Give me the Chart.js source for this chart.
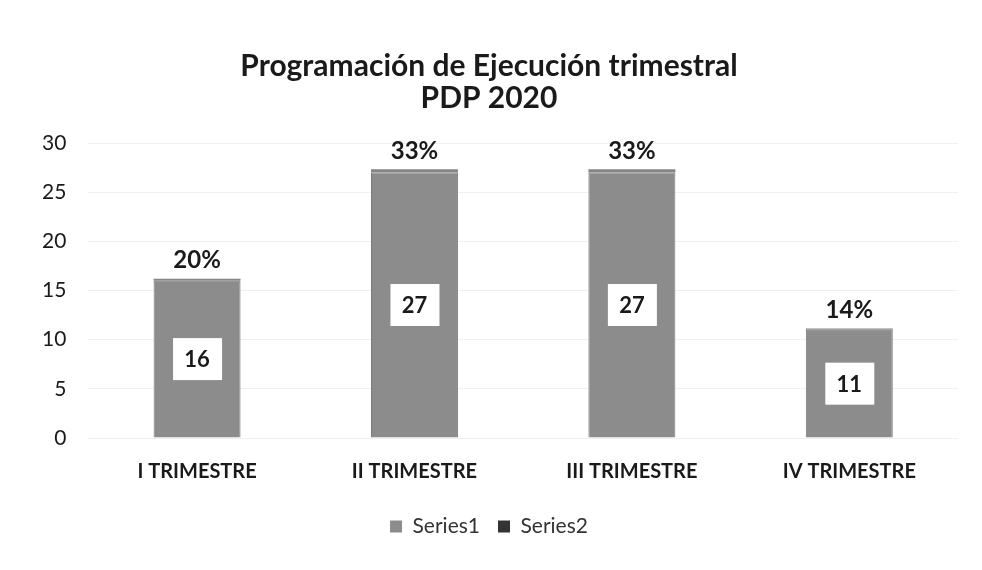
<!DOCTYPE html>
<html lang="es">
<head>
    <meta charset="UTF-8" />
    <title>Programación de Ejecución trimestral PDP 2020</title>
    <style>
        html, body { margin: 0; padding: 0; background: #ffffff; }
        #wrap { width: 982px; height: 570px; position: relative; }
    </style>
</head>
<body>
    <div id="wrap"><canvas id="myChart" width="982" height="570"></canvas></div>

    <script src="https://cdn.jsdelivr.net/npm/chart.js@4/dist/chart.umd.min.js"></script>
    <script>
        // Data
        const categories = ["I TRIMESTRE", "II TRIMESTRE", "III TRIMESTRE", "IV TRIMESTRE"];
        const series1 = [16, 27, 27, 11];
        const series2 = [0.20, 0.33, 0.33, 0.14];
        const yTicks = [0, 5, 10, 15, 20, 25, 30];

        const FONT = "Lato, 'Open Sans', sans-serif";
        const legendColors = ["#8c8c8c", "#333333"];

        // Draws the value boxes in Series1 and the % labels over Series2
        const barLabels = {
            id: "barLabels",
            afterDatasetsDraw(chart) {
                const ctx = chart.ctx;
                ctx.save();
                ctx.textAlign = "center";
                ctx.textBaseline = "middle";

                chart.getDatasetMeta(0).data.forEach((bar, i) => {
                    const cy = (bar.y + bar.base) / 2;
                    ctx.fillStyle = "#ffffff";
                    ctx.fillRect(bar.x - 24, cy - 21, 49, 42);
                    ctx.fillStyle = "#1a1a1a";
                    ctx.font = "bold 22px " + FONT;
                    ctx.fillText(String(series1[i]), bar.x, cy + 1);
                });

                chart.getDatasetMeta(1).data.forEach((bar, i) => {
                    ctx.fillStyle = "#1a1a1a";
                    ctx.font = "bold 24px " + FONT;
                    ctx.fillText(Math.round(series2[i] * 100) + "%", bar.x, bar.y - 18);
                });
                ctx.restore();
            }
        };

        new Chart(document.getElementById("myChart"), {
            type: "bar",
            data: {
                labels: categories,
                datasets: [
                    {
                        label: "Series1",
                        data: series1,
                        backgroundColor: "#8c8c8c",
                        borderColor: "#7a7a7a",
                        borderWidth: 1,
                        categoryPercentage: 0.4,
                        barPercentage: 1.0
                    },
                    {
                        // tiny share on top of each bar, only its label is visible
                        label: "Series2",
                        data: series2,
                        backgroundColor: "#858585",
                        categoryPercentage: 0.4,
                        barPercentage: 1.0
                    }
                ]
            },
            options: {
                responsive: false,
                animation: false,
                layout: { padding: { left: 20, right: 24, top: 20, bottom: 23 } },
                plugins: {
                    title: {
                        display: true,
                        text: ["Programación de Ejecución trimestral", "PDP 2020"],
                        color: "#1a1a1a",
                        font: { family: FONT, size: 30, weight: "bold", lineHeight: 1.05 },
                        padding: { top: 31, bottom: 29 }
                    },
                    legend: {
                        position: "bottom",
                        labels: {
                            color: "#333333",
                            font: { family: FONT, size: 21 },
                            boxWidth: 12,
                            boxHeight: 12,
                            padding: 18,
                            generateLabels: chart => chart.data.datasets.map((ds, i) => ({
                                text: ds.label,
                                fillStyle: legendColors[i],
                                strokeStyle: legendColors[i],
                                lineWidth: 0,
                                fontColor: "#333333",
                                datasetIndex: i
                            }))
                        }
                    },
                    tooltip: { enabled: false }
                },
                scales: {
                    x: {
                        stacked: true,
                        grid: { display: false },
                        border: { display: false },
                        ticks: {
                            color: "#1a1a1a",
                            font: { family: FONT, size: 20, weight: "bold" },
                            padding: 14
                        }
                    },
                    y: {
                        stacked: true,
                        min: 0,
                        max: 30,
                        afterBuildTicks: axis => { axis.ticks = yTicks.map(v => ({ value: v })); },
                        grid: { color: "#f0f0f0", drawTicks: false },
                        border: { display: false },
                        ticks: {
                            color: "#1a1a1a",
                            font: { family: FONT, size: 21 },
                            padding: 22
                        }
                    }
                }
            },
            plugins: [barLabels]
        });
    </script>
</body>
</html>
